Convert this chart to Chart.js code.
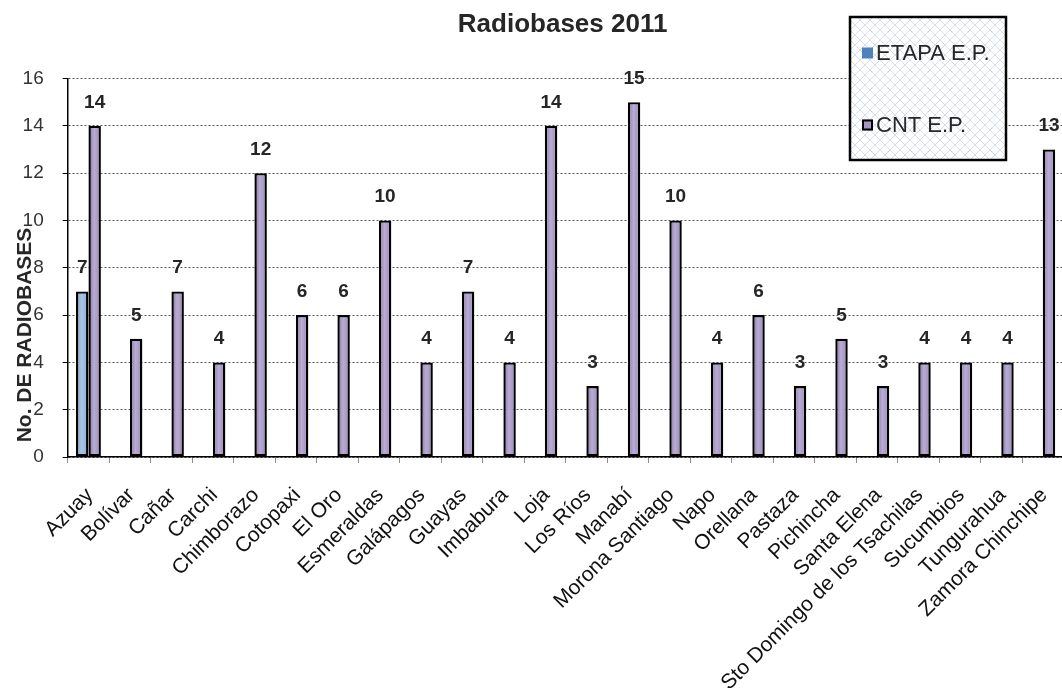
<!DOCTYPE html>
<html>
<head>
<meta charset="utf-8">
<title>Radiobases 2011</title>
<script src="https://cdn.jsdelivr.net/npm/chart.js@4.4.1/dist/chart.umd.min.js"></script>
<style>
  html, body { margin: 0; padding: 0; background: #ffffff; overflow: hidden; }
  #wrap { position: relative; width: 1064px; height: 688px; }
  canvas { display: block; }
</style>
</head>
<body>
<div id="wrap"><canvas id="chart" width="1064" height="688"></canvas></div>
<script>
// Provinces (categories)
const provinces = [
  'Azuay', 'Bolívar', 'Cañar', 'Carchi', 'Chimborazo', 'Cotopaxi', 'El Oro',
  'Esmeraldas', 'Galápagos', 'Guayas', 'Imbabura', 'Loja', 'Los Ríos', 'Manabí',
  'Morona Santiago', 'Napo', 'Orellana', 'Pastaza', 'Pichincha', 'Santa Elena',
  'Sto Domingo de los Tsachilas', 'Sucumbios', 'Tungurahua', 'Zamora Chinchipe'
];

// Series names
const seriesNames = ['ETAPA E.P.', 'CNT E.P.'];

// Radiobases per operator
const etapaValues = [7, null, null, null, null, null, null, null, null, null, null, null,
                     null, null, null, null, null, null, null, null, null, null, null, null];
const cntValues = [14, 5, 7, 4, 12, 6, 6, 10, 4, 7, 4, 14, 3, 15, 10, 4, 6, 3, 5, 3, 4, 4, 4, 13];

// Value axis ticks
const yTickValues = [0, 2, 4, 6, 8, 10, 12, 14, 16];

const chartTitle = 'Radiobases 2011';
const yAxisTitle = 'No. DE RADIOBASES';

const FONT = '"Liberation Sans", Arial, Helvetica, sans-serif';

// Bar fill colours: edge / highlight / far edge (cylinder-like shading)
const shades = [
  { edge: '#7a9cc6', light: '#aac6e6', far: '#8cacd4', legend: '#4f81bd' },
  { edge: '#83749d', light: '#b9acd4', far: '#9888b7', legend: '#a497c2' }
];

// Light diagonal lattice used as the legend background
function makeLattice() {
  const c = document.createElement('canvas');
  c.width = 10; c.height = 10;
  const g = c.getContext('2d');
  g.fillStyle = '#ffffff';
  g.fillRect(0, 0, 10, 10);
  g.strokeStyle = '#d3deec';
  g.lineWidth = 1;
  g.beginPath();
  g.moveTo(0, 0); g.lineTo(10, 10);
  g.moveTo(10, 0); g.lineTo(0, 10);
  g.stroke();
  return c;
}
const latticeTile = makeLattice();

// Horizontal gradient inside each bar, based on the bar geometry computed by Chart.js
const barShading = {
  id: 'barShading',
  beforeDatasetsDraw(chart) {
    const ctx = chart.ctx;
    chart.data.datasets.forEach((ds, i) => {
      const meta = chart.getDatasetMeta(i);
      const s = shades[i];
      meta.data.forEach((el) => {
        if (!el || !el.options || !isFinite(el.x)) return;
        const x0 = el.x - el.width / 2;
        const x1 = el.x + el.width / 2;
        const g = ctx.createLinearGradient(x0, 0, x1, 0);
        g.addColorStop(0, s.edge);
        g.addColorStop(0.45, s.light);
        g.addColorStop(1, s.far);
        // each element owns its options object (scriptable colour below)
        el.options.backgroundColor = g;
      });
    });
  }
};

// Value labels above bars
const valueLabels = {
  id: 'valueLabels',
  afterDatasetsDraw(chart) {
    const ctx = chart.ctx;
    ctx.save();
    ctx.font = 'bold 19px ' + FONT;
    ctx.fillStyle = '#262626';
    ctx.textAlign = 'center';
    ctx.textBaseline = 'alphabetic';
    chart.data.datasets.forEach((ds, i) => {
      const meta = chart.getDatasetMeta(i);
      meta.data.forEach((el, j) => {
        const v = ds.data[j];
        if (v === null || v === undefined) return;
        ctx.fillText(String(v), el.x, el.y - 18);
      });
    });
    ctx.restore();
  }
};

// Title, axis title and the boxed legend
const decorations = {
  id: 'decorations',
  afterDraw(chart) {
    const ctx = chart.ctx;
    const area = chart.chartArea;
    ctx.save();

    // chart title
    ctx.font = 'bold 26px ' + FONT;
    ctx.fillStyle = '#262626';
    ctx.textAlign = 'center';
    ctx.textBaseline = 'middle';
    ctx.fillText(chartTitle, (area.left + area.right) / 2 - 3, 25);

    // value axis title
    ctx.save();
    ctx.translate(25, 335);
    ctx.rotate(-Math.PI / 2);
    ctx.font = 'bold 21px ' + FONT;
    ctx.fillStyle = '#262626';
    ctx.textAlign = 'center';
    ctx.textBaseline = 'middle';
    ctx.fillText(yAxisTitle, 0, 0);
    ctx.restore();

    // legend box
    const lx = 850, ly = 17, lw = 156, lh = 143;
    ctx.fillStyle = ctx.createPattern(latticeTile, 'repeat');
    ctx.fillRect(lx, ly, lw, lh);
    ctx.lineWidth = 2.5;
    ctx.strokeStyle = '#000000';
    ctx.strokeRect(lx, ly, lw, lh);

    const rows = [53, 125];
    ctx.font = '22px ' + FONT;
    ctx.textAlign = 'left';
    ctx.textBaseline = 'middle';
    seriesNames.forEach((name, i) => {
      const cy = rows[i];
      ctx.fillStyle = shades[i].legend;
      ctx.fillRect(862, cy - 5.5, 11, 11);
      if (i === 1) {
        ctx.lineWidth = 2;
        ctx.strokeStyle = '#000000';
        ctx.strokeRect(863, cy - 4.5, 9, 9);
      }
      ctx.fillStyle = '#262626';
      ctx.fillText(name, 876, cy + 1);
    });

    ctx.restore();
  }
};

new Chart(document.getElementById('chart'), {
  type: 'bar',
  data: {
    labels: provinces,
    datasets: [
      {
        label: seriesNames[0],
        data: etapaValues,
        backgroundColor: (c) => shades[c.datasetIndex].light,
        borderColor: '#000000',
        borderWidth: 2.4,
        borderSkipped: false
      },
      {
        label: seriesNames[1],
        data: cntValues,
        backgroundColor: (c) => shades[c.datasetIndex].light,
        borderColor: '#000000',
        borderWidth: 2.4,
        borderSkipped: false
      }
    ]
  },
  options: {
    responsive: false,
    animation: false,
    devicePixelRatio: 1,
    layout: { padding: { top: 78.5, right: 0.5, bottom: 0, left: 0 } },
    datasets: { bar: { categoryPercentage: 0.6, barPercentage: 1 } },
    plugins: {
      legend: { display: false },
      title: { display: false },
      tooltip: { enabled: false }
    },
    scales: {
      x: {
        grid: {
          offset: true,
          drawOnChartArea: false,
          drawTicks: true,
          tickLength: 6,
          tickColor: '#8c8c8c',
          tickWidth: 1
        },
        border: { color: '#000000', width: 1.5 },
        ticks: {
          autoSkip: false,
          minRotation: 45,
          maxRotation: 45,
          padding: 20,
          labelOffset: 1.5,
          color: '#111111',
          font: { family: FONT, size: 21 }
        },
        afterFit(scale) {
          scale.height = 231;
          // the rotated labels may overhang the plot edges
          scale.paddingLeft = 0;
          scale.paddingRight = 0;
        }
      },
      y: {
        min: 0,
        max: 16,
        afterBuildTicks(scale) { scale.ticks = yTickValues.map(v => ({ value: v })); },
        ticks: {
          padding: 19,
          color: '#333333',
          font: { family: FONT, size: 19 }
        },
        grid: {
          color: '#5a5a5a',
          lineWidth: 1,
          drawTicks: true,
          tickLength: 5,
          tickColor: '#000000',
          tickWidth: 1
        },
        border: { color: '#000000', width: 1.5, dash: [2, 2] },
        afterFit(scale) { scale.width = 67.7; }
      }
    }
  },
  plugins: [barShading, valueLabels, decorations]
});
</script>
</body>
</html>
